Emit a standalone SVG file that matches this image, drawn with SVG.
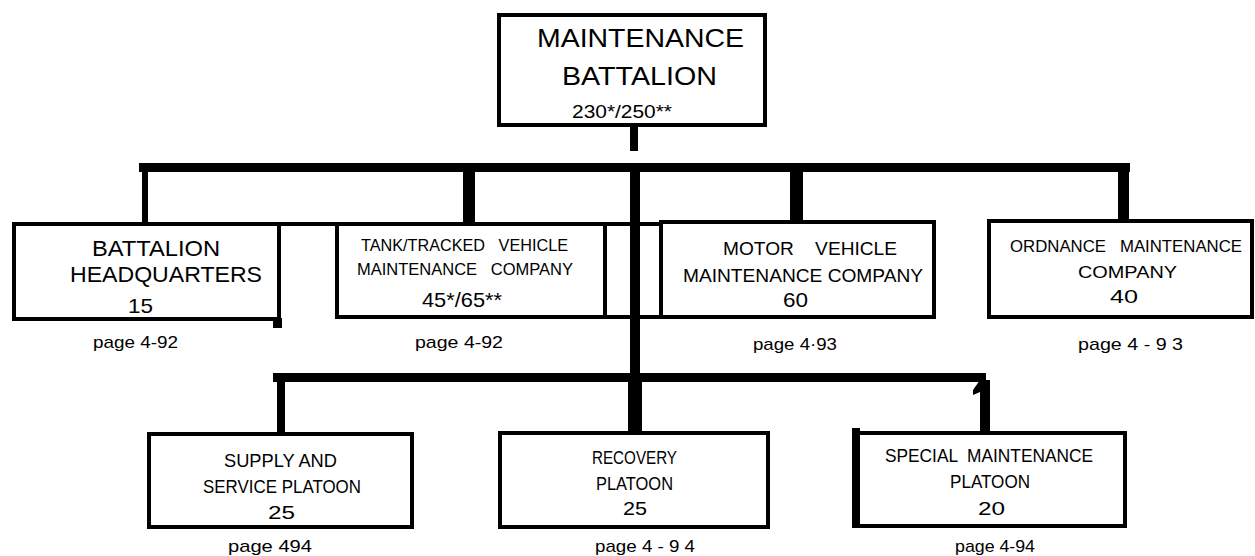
<svg xmlns="http://www.w3.org/2000/svg" width="1255" height="556" viewBox="0 0 1255 556">
<style>
.box{fill:#fff;stroke:#000;stroke-width:4}
.bar{fill:#000}
text{font-family:"Liberation Sans",Arial,sans-serif;fill:#000}
.pg{font-size:17px}
</style>
<rect width="1255" height="556" fill="#fff"/>
<g id="connectors">
<rect class="bar" x="630" y="124" width="8" height="27"/>
<rect class="bar" x="139" y="163" width="991" height="9"/>
<rect class="bar" x="142" y="170" width="6" height="56"/>
<rect class="bar" x="138" y="224" width="14" height="4"/>
<rect class="bar" x="463" y="170" width="12" height="54"/>
<rect class="bar" x="790" y="170" width="13" height="52"/>
<rect class="bar" x="1118" y="170" width="11" height="52"/>
<rect class="bar" x="630" y="170" width="10" height="205"/>
<rect class="bar" x="628" y="375" width="14" height="58"/>
<rect class="bar" x="273" y="373" width="713" height="9"/>
<rect class="bar" x="277" y="380" width="8" height="55"/>
<rect class="bar" x="273" y="432" width="16" height="4"/>
<path class="bar" d="M980,380 L990,380 L990,432 L995,432 L995,438 L976,438 L976,432 L980,432 L980,392 L973,395 L973,390 Z"/>
<line x1="280" y1="224" x2="337" y2="224" stroke="#000" stroke-width="4"/>
<line x1="605" y1="224" x2="661" y2="224" stroke="#000" stroke-width="4"/>
<line x1="605" y1="317" x2="661" y2="317" stroke="#000" stroke-width="4"/>
</g>
<g id="n-battalion">
<rect class="box" x="499" y="15" width="266" height="110" stroke-width="3.5"/>
<text x="537" y="47" font-size="25" textLength="207" lengthAdjust="spacingAndGlyphs">MAINTENANCE</text>
<text x="562" y="85" font-size="25" textLength="155" lengthAdjust="spacingAndGlyphs">BATTALION</text>
<text x="572" y="118" font-size="19" textLength="100" lengthAdjust="spacingAndGlyphs">230*/250**</text>
</g>
<g id="n-hq">
<rect class="box" x="14" y="224" width="265" height="95"/>
<rect class="bar" x="273" y="318" width="9" height="10"/>
<text x="92" y="256" font-size="22" textLength="128" lengthAdjust="spacingAndGlyphs">BATTALION</text>
<text x="70" y="282" font-size="22" textLength="192" lengthAdjust="spacingAndGlyphs">HEADQUARTERS</text>
<text x="128" y="313" font-size="21" textLength="25" lengthAdjust="spacingAndGlyphs">15</text>
<text class="pg" x="93" y="348" textLength="85" lengthAdjust="spacingAndGlyphs">page 4-92</text>
</g>
<g id="n-tank">
<rect class="box" x="337" y="224" width="268" height="93"/>
<text x="361" y="251" font-size="16" textLength="207" lengthAdjust="spacingAndGlyphs" xml:space="preserve">TANK/TRACKED   VEHICLE</text>
<text x="357" y="275" font-size="16" textLength="216" lengthAdjust="spacingAndGlyphs" xml:space="preserve">MAINTENANCE   COMPANY</text>
<text x="422" y="307" font-size="21" textLength="80" lengthAdjust="spacingAndGlyphs">45*/65**</text>
<text class="pg" x="415" y="348" textLength="88" lengthAdjust="spacingAndGlyphs">page 4-92</text>
</g>
<g id="n-motor">
<rect class="box" x="661" y="222" width="273" height="95"/>
<text x="723" y="255" font-size="19" textLength="174" lengthAdjust="spacingAndGlyphs" xml:space="preserve">MOTOR    VEHICLE</text>
<text x="683" y="282" font-size="19" textLength="240" lengthAdjust="spacingAndGlyphs">MAINTENANCE COMPANY</text>
<text x="783" y="307" font-size="20" textLength="25" lengthAdjust="spacingAndGlyphs">60</text>
<text class="pg" x="753" y="350" textLength="84" lengthAdjust="spacingAndGlyphs">page 4·93</text>
</g>
<g id="n-ordnance">
<rect class="box" x="989" y="221" width="263" height="96" stroke-width="3.5"/>
<text x="1010" y="252" font-size="17" textLength="232" lengthAdjust="spacingAndGlyphs" xml:space="preserve">ORDNANCE   MAINTENANCE</text>
<text x="1078" y="278" font-size="17" textLength="99" lengthAdjust="spacingAndGlyphs">COMPANY</text>
<text x="1110" y="303" font-size="19" textLength="28" lengthAdjust="spacingAndGlyphs">40</text>
<text class="pg" x="1078" y="350" textLength="105" lengthAdjust="spacingAndGlyphs">page 4 - 9 3</text>
</g>
<g id="n-supply">
<rect class="box" x="149" y="434" width="263" height="93"/>
<text x="224" y="467" font-size="19" textLength="113" lengthAdjust="spacingAndGlyphs">SUPPLY AND</text>
<text x="203" y="493" font-size="19" textLength="158" lengthAdjust="spacingAndGlyphs">SERVICE PLATOON</text>
<text x="268" y="519" font-size="19" textLength="27" lengthAdjust="spacingAndGlyphs">25</text>
<text class="pg" x="228" y="552" textLength="84" lengthAdjust="spacingAndGlyphs">page 494</text>
</g>
<g id="n-recovery">
<rect class="box" x="500" y="433" width="268" height="94"/>
<text x="592" y="464" font-size="19" textLength="85" lengthAdjust="spacingAndGlyphs">RECOVERY</text>
<text x="596" y="490" font-size="19" textLength="77" lengthAdjust="spacingAndGlyphs">PLATOON</text>
<text x="623" y="515" font-size="19" textLength="24" lengthAdjust="spacingAndGlyphs">25</text>
<text class="pg" x="595" y="552" textLength="100" lengthAdjust="spacingAndGlyphs">page 4 - 9 4</text>
</g>
<g id="n-special">
<rect class="box" x="858" y="433" width="267" height="93"/>
<rect class="bar" x="852" y="428" width="8" height="100"/>
<text x="885" y="462" font-size="19" textLength="208" lengthAdjust="spacingAndGlyphs" xml:space="preserve">SPECIAL  MAINTENANCE</text>
<text x="950" y="488" font-size="19" textLength="80" lengthAdjust="spacingAndGlyphs">PLATOON</text>
<text x="978" y="515" font-size="19" textLength="27" lengthAdjust="spacingAndGlyphs">20</text>
<text class="pg" x="955" y="552" textLength="80" lengthAdjust="spacingAndGlyphs">page 4-94</text>
</g>
</svg>
